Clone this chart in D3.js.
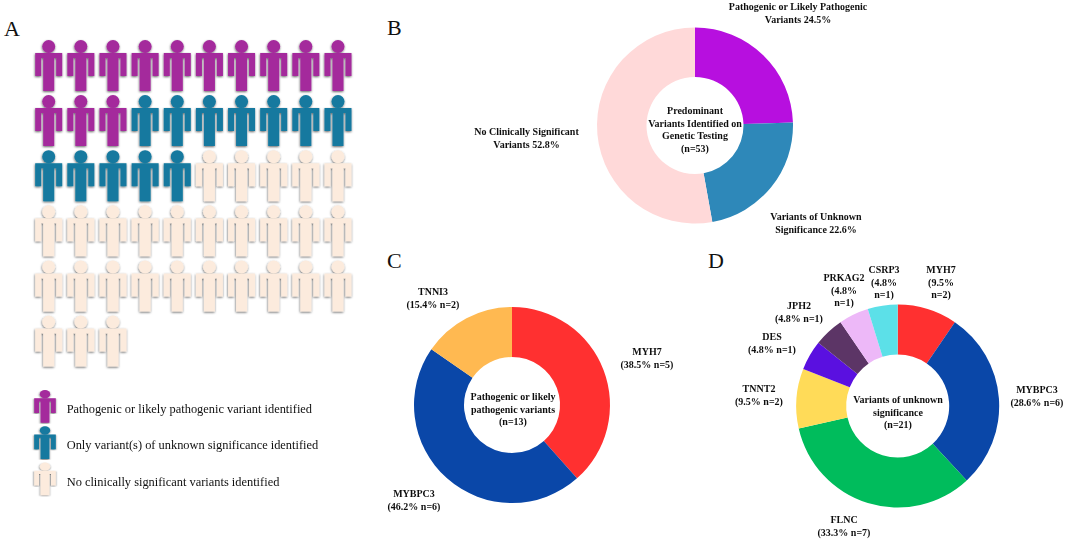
<!DOCTYPE html>
<html><head><meta charset="utf-8">
<script src="https://cdn.jsdelivr.net/npm/d3@7"></script>
<style>
html,body{margin:0;padding:0;background:#fff}
svg{display:block}
text{font-family:"Liberation Serif",serif;fill:#111}
.lab{font-size:10px;font-weight:700}
.leg{font-size:12.4px}
.pan{font-size:22px}
</style></head><body>
<svg id="c" width="1065" height="542"></svg>
<script>
// Panel A
const peopleGroups = ["Pathogenic or likely pathogenic variant identified","Only variant(s) of unknown significance identified","No clinically significant variants identified"];
const peopleCounts = [13,12,28];
const peopleColors = ["#A42A9C","#14799F","#FCEBDD"];
// Panel B
const bValues = [13,12,28];
const bColors = ["#B70FDF","#2E88B9","#FFD9D9"];
// Panel C
const cGenes = ["MYH7","MYBPC3","TNNI3"];
const cValues = [5,6,2];
const cColors = ["#FF3030","#0A47A8","#FFB951"];
// Panel D
const dGenes = ["MYH7","MYBPC3","FLNC","TNNT2","DES","JPH2","PRKAG2","CSRP3"];
const dValues = [2,6,7,2,1,1,1,1];
const dColors = ["#FF3030","#0A47A8","#00BC5C","#FFDB58","#5A10E0","#5C3566","#EDB8F8","#5CE0E8"];

const svg = d3.select("#c");
const defs = svg.append("defs");
const f = defs.append("filter").attr("id","sh").attr("x","-30%").attr("y","-30%").attr("width","170%").attr("height","170%");
f.append("feDropShadow").attr("dx",-0.3).attr("dy",1).attr("stdDeviation",1.2).attr("flood-color","#000").attr("flood-opacity",0.6);
const soft = defs.append("filter").attr("id","soft").attr("x","-5%").attr("y","-20%").attr("width","110%").attr("height","140%");
soft.append("feGaussianBlur").attr("stdDeviation",0.35);

function person(g,sx,sy,color){
  const p = g.append("g").attr("filter","url(#sh)").attr("transform",`scale(${sx},${sy})`);
  p.append("circle").attr("cy",6.5).attr("r",6.5).attr("fill",color);
  p.append("path").attr("fill",color)
   .attr("d","M-13.5,13 H13.5 V36 H7.5 V18 H5.5 V51 H-5.5 V18 H-7.5 V36 H-13.5 Z");
}
const xCol = d3.scalePoint().domain(d3.range(10)).range([48.7,338]);
const yRow = d3.scalePoint().domain(d3.range(6)).range([40,315.5]);
const people = peopleCounts.flatMap((n,i)=>d3.range(n).map(()=>i));
people.forEach((grp,i)=>{
  const g = svg.append("g").attr("transform",`translate(${xCol(i%10)},${yRow(Math.floor(i/10))})`);
  person(g,1,1,peopleColors[grp]);
});
const yLeg = d3.scalePoint().domain(d3.range(3)).range([390,462.5]);
const yLegText = d3.scalePoint().domain(d3.range(3)).range([412.7,485.7]);
peopleGroups.forEach((t,i)=>{
  const g = svg.append("g").attr("transform",`translate(45,${yLeg(i)})`);
  person(g,0.8,0.64,peopleColors[i]);
  svg.append("text").attr("class","leg").attr("filter","url(#soft)").attr("x",66.7).attr("y",yLegText(i)).text(t);
});

function donut(cx,cy,R,r,vals,cols){
  const pie = d3.pie().sort(null)(vals);
  const arc = d3.arc().innerRadius(r).outerRadius(R);
  svg.append("g").attr("transform",`translate(${cx},${cy})`)
    .selectAll("path").data(pie).join("path").attr("d",arc).attr("fill",(d,i)=>cols[i]);
}
donut(695,125.5,98,48.5,bValues,bColors);
donut(512,405,98,48,cValues,cColors);
donut(897.7,406,101.5,51.5,dValues,dColors);

function label(x,y,lines,lh=12.5){
  const t = svg.append("text").attr("class","lab").attr("text-anchor","middle").attr("filter","url(#soft)");
  lines.forEach((l,i)=>t.append("tspan").attr("x",x).attr("y",y+i*lh).text(l));
}
const pct = (v,tot)=>(v/tot*100).toFixed(1)+"%";
const bT = d3.sum(bValues), cT=d3.sum(cValues), dT=d3.sum(dValues);
// B
label(798,10,["Pathogenic or Likely Pathogenic",`Variants ${pct(bValues[0],bT)}`]);
label(816,220,["Variants of Unknown",`Significance ${pct(bValues[1],bT)}`]);
label(526.5,135,["No Clinically Significant",`Variants ${pct(bValues[2],bT)}`]);
label(695,114,["Predominant","Variants Identified on","Genetic Testing",`(n=${bT})`]);
// C
label(433,295,[cGenes[2],`(${pct(cValues[2],cT)} n=${cValues[2]})`]);
label(647,355,[cGenes[0],`(${pct(cValues[0],cT)} n=${cValues[0]})`]);
label(414,497,[cGenes[1],`(${pct(cValues[1],cT)} n=${cValues[1]})`]);
label(513,400,["Pathogenic or likely","pathogenic variants",`(n=${cT})`]);
// D
const dl = (i)=>`(${pct(dValues[i],dT)} n=${dValues[i]})`;
const dp = (i)=>`(${pct(dValues[i],dT)}`;
label(941,273,[dGenes[0],dp(0),`n=${dValues[0]})`]);
label(1037,393,[dGenes[1],dl(1)]);
label(844,523,[dGenes[2],dl(2)]);
label(759,392,[dGenes[3],dl(3)]);
label(772,340,[dGenes[4],dl(4)]);
label(799,309,[dGenes[5],dl(5)]);
label(844,281,[dGenes[6],dp(6),`n=${dValues[6]})`]);
label(884,273,[dGenes[7],dp(7),`n=${dValues[7]})`]);
label(898,403,["Variants of unknown","significance",`(n=${dT})`]);

// panel letters
[["A",4,36],["B",387,35],["C",387,268],["D",708,268]].forEach(([t,x,y])=>
  svg.append("text").attr("class","pan").attr("x",x).attr("y",y).text(t));
</script></body></html>
